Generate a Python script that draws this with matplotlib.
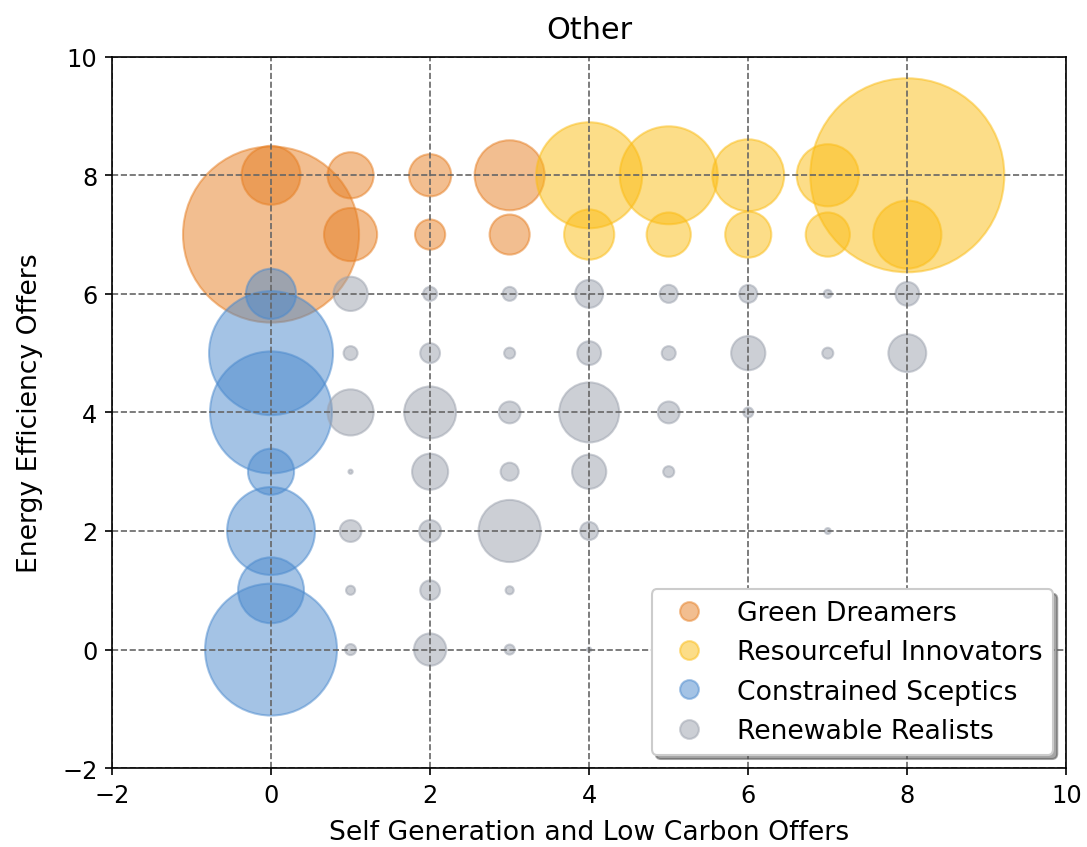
import matplotlib.pyplot as plt
from matplotlib.lines import Line2D

# respondents per (self generation, energy efficiency) cell, by segment
green_x = [0, 0, 1, 1, 2, 2, 3, 3]
green_y = [7, 8, 8, 7, 8, 7, 8, 7]
green_n = [714, 80, 49, 65, 41, 21, 113, 37]

innov_x = [4, 4, 5, 5, 6, 6, 7, 7, 8, 8]
innov_y = [8, 7, 8, 7, 8, 7, 8, 7, 8, 7]
innov_n = [259, 58, 221, 45, 119, 49, 89, 45, 867, 107]

scept_x = [0, 0, 0, 0, 0, 0, 0]
scept_y = [6, 5, 4, 3, 2, 1, 0]
scept_n = [58, 354, 343, 49, 178, 100, 401]

real_x = [1, 2, 3, 4, 5, 6, 7, 8,
          1, 2, 3, 4, 5, 6, 7, 8,
          1, 2, 3, 4, 5, 6,
          1, 2, 3, 4, 5,
          1, 2, 3, 4, 7,
          1, 2, 3,
          1, 2, 3, 4]
real_y = [6, 6, 6, 6, 6, 6, 6, 6,
          5, 5, 5, 5, 5, 5, 5, 5,
          4, 4, 4, 4, 4, 4,
          3, 3, 3, 3, 3,
          2, 2, 2, 2, 2,
          1, 1, 1,
          0, 0, 0, 0]
real_n = [27, 4.5, 4.5, 18, 7.5, 7.5, 1.5, 13,
          4.5, 9, 2.8, 13, 4.5, 27, 2.8, 33,
          49, 62, 11, 83, 11, 2.3,
          0.4, 30, 7.5, 27, 2.8,
          11, 11, 89, 7.5, 0.8,
          1.9, 9, 1.5,
          2.8, 24, 2.3, 0.4]

segments = ['Green Dreamers', 'Resourceful Innovators',
            'Constrained Sceptics', 'Renewable Realists']
colors = ['#E67E22', '#FBBC13', '#4A89CD', '#9BA1AD']
SCALE = 10

fig, ax = plt.subplots(figsize=(7.247, 5.653), dpi=150)
fig.subplots_adjust(left=0.103, right=0.981, top=0.932, bottom=0.093)

data = [(green_x, green_y, green_n), (innov_x, innov_y, innov_n),
        (scept_x, scept_y, scept_n), (real_x, real_y, real_n)]
for (xs, ys, ns), col in zip(data, colors):
    ax.scatter(xs, ys, s=[n * SCALE for n in ns], color=col, alpha=0.5)

ax.set_xlim(-2, 10)
ax.set_ylim(-2, 10)
ax.tick_params(labelsize=11.5)
ax.grid(True, linestyle='--', color='#666666')
ax.set_title('Other', fontsize=14.5, pad=9)
ax.set_xlabel('Self Generation and Low Carbon Offers', fontsize=12.8,
              labelpad=6)
ax.set_ylabel('Energy Efficiency Offers', fontsize=12.8, labelpad=9)

handles = [Line2D([], [], marker='o', linestyle='', markersize=9,
                  color=c, alpha=0.5) for c in colors]
ax.legend(handles, segments, loc='lower right', shadow=True, fontsize=12.8)

plt.savefig('out.png')
